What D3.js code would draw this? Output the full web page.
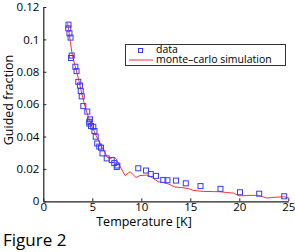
<!DOCTYPE html>
<html>
<head>
<meta charset="utf-8">
<script src="https://cdn.jsdelivr.net/npm/d3@7"></script>
<style>
  body { margin: 0; background: #fff; }
  text { font-family: "Open Sans", sans-serif; fill: #000; }
</style>
</head>
<body>
<svg id="chart" width="295" height="252"></svg>
<script>
// measured data (temperature in K, guided fraction)
var dataT = [2.57, 2.55, 2.67, 2.78, 2.90, 2.83, 3.27, 3.39, 3.57, 3.74, 3.82, 3.92, 4.08, 4.49,
  4.77, 4.69, 4.69, 4.87, 5.10, 5.22, 5.35, 5.50, 5.71, 5.89, 6.04, 6.47, 6.98, 7.24, 7.55, 7.49,
  9.69, 10.48, 10.96, 11.50, 12.24, 12.67, 13.54, 14.54, 16.04, 18.08, 20.07, 22.03, 24.58];
var dataF = [0.1091, 0.1068, 0.1037, 0.1011, 0.0900, 0.0885, 0.0831, 0.0804, 0.0738, 0.0715, 0.0681,
  0.0648, 0.0588, 0.0554, 0.0506, 0.0491, 0.0480, 0.0465, 0.0460, 0.0434, 0.0399, 0.0357, 0.0338,
  0.0331, 0.0296, 0.0265, 0.0255, 0.0236, 0.0221, 0.0212, 0.0204, 0.0190, 0.0169, 0.0157, 0.0132,
  0.0130, 0.0128, 0.0111, 0.0094, 0.0077, 0.0056, 0.0047, 0.0031];

// monte-carlo simulation curve
var simT = [2.49, 2.76, 2.96, 3.31, 3.57, 3.92, 4.26, 4.59, 5.00, 5.28, 5.61, 5.89, 6.22, 6.50, 6.81,
  7.14, 7.42, 7.65, 7.93, 8.34, 8.85, 9.46, 9.87, 10.55, 10.82, 11.22, 11.73, 12.24, 12.76, 13.44,
  14.12, 14.80, 15.31, 16.33, 17.35, 18.03, 18.71, 19.39, 20.00, 20.76, 21.94, 22.80, 23.64, 24.59, 25.07];
var simF = [0.1101, 0.0985, 0.0903, 0.0821, 0.0761, 0.0667, 0.0584, 0.0522, 0.0460, 0.0420, 0.0378,
  0.0341, 0.0310, 0.0273, 0.0264, 0.0272, 0.0264, 0.0235, 0.0206, 0.0159, 0.0183, 0.0147, 0.0159,
  0.0162, 0.0156, 0.0142, 0.0121, 0.0116, 0.0107, 0.0088, 0.0085, 0.0079, 0.0067, 0.0061, 0.0060,
  0.0059, 0.0054, 0.0051, 0.0033, 0.0036, 0.0037, 0.0020, 0.0025, 0.0028, 0.0020];

var xTicks = [0, 5, 10, 15, 20, 25];
var yTicks = [0, 0.02, 0.04, 0.06, 0.08, 0.1, 0.12];
var legendLabels = ["data", "monte\u2013carlo simulation"];

var svg = d3.select("#chart");
var plotLeft = 43.3, plotRight = 288.3, plotTop = 7, plotBottom = 201.3;

var x = d3.scaleLinear().domain([0, 25]).range([plotLeft, plotRight]);
var y = d3.scaleLinear().domain([0, 0.12]).range([plotBottom, plotTop]);

svg.append("g")
    .attr("transform", "translate(0," + plotBottom + ")")
    .call(d3.axisBottom(x).tickValues(xTicks).tickFormat(d3.format("d"))
      .tickSizeInner(-3).tickSizeOuter(0).tickPadding(1.5));

svg.append("g")
    .attr("transform", "translate(" + plotLeft + ",0)")
    .call(d3.axisLeft(y).tickValues(yTicks).tickFormat(function(d) { return String(+d.toFixed(2)); })
      .tickSizeInner(-3).tickSizeOuter(0).tickPadding(4));

svg.selectAll(".domain").attr("stroke", "#222").attr("stroke-width", 1.2);
svg.selectAll(".tick line").attr("stroke", "#222");
svg.selectAll(".tick text")
    .style("font-family", "'Open Sans', sans-serif")
    .style("font-size", "11.5px")
    .attr("fill", "#000");

var line = d3.line()
    .x(function(d) { return x(d[0]); })
    .y(function(d) { return y(d[1]); });

svg.append("path")
    .datum(d3.zip(simT, simF))
    .attr("d", line)
    .attr("fill", "none")
    .attr("stroke", "#ff3040")
    .attr("stroke-width", 1);

svg.append("g")
  .selectAll("rect")
  .data(d3.zip(dataT, dataF))
  .enter().append("rect")
    .attr("x", function(d) { return x(d[0]) - 2.5; })
    .attr("y", function(d) { return y(d[1]) - 2.5; })
    .attr("width", 5)
    .attr("height", 5)
    .attr("fill", "none")
    .attr("stroke", "#3a3aff")
    .attr("stroke-width", 1);

// legend
var legend = svg.append("g").attr("transform", "translate(125,44)");
legend.append("rect")
    .attr("x", 0.5).attr("y", 0.5)
    .attr("width", 160).attr("height", 21)
    .attr("fill", "#fff")
    .attr("stroke", "#333")
    .attr("stroke-width", 1);
legend.append("rect")
    .attr("x", 13.5).attr("y", 4.5).attr("width", 4).attr("height", 4)
    .attr("fill", "none").attr("stroke", "#3a3aff");
legend.append("line")
    .attr("x1", 4).attr("x2", 28).attr("y1", 16).attr("y2", 16)
    .attr("stroke", "#ff3040");
legend.selectAll("text.lab")
  .data(legendLabels)
  .enter().append("text")
    .attr("class", "lab")
    .attr("x", 31)
    .attr("y", function(d, i) { return 9 + i * 10; })
    .style("font-size", "10.5px")
    .text(function(d) { return d; });

svg.append("text")
    .attr("x", 144)
    .attr("y", 226)
    .attr("text-anchor", "middle")
    .style("font-size", "12.5px")
    .text("Temperature [K]");

svg.append("text")
    .attr("transform", "translate(12.5,100) rotate(-90)")
    .attr("text-anchor", "middle")
    .style("font-size", "12.5px")
    .text("Guided fraction");

svg.append("text")
    .attr("x", 3)
    .attr("y", 246)
    .style("font-size", "17px")
    .text("Figure 2");
</script>
</body>
</html>
